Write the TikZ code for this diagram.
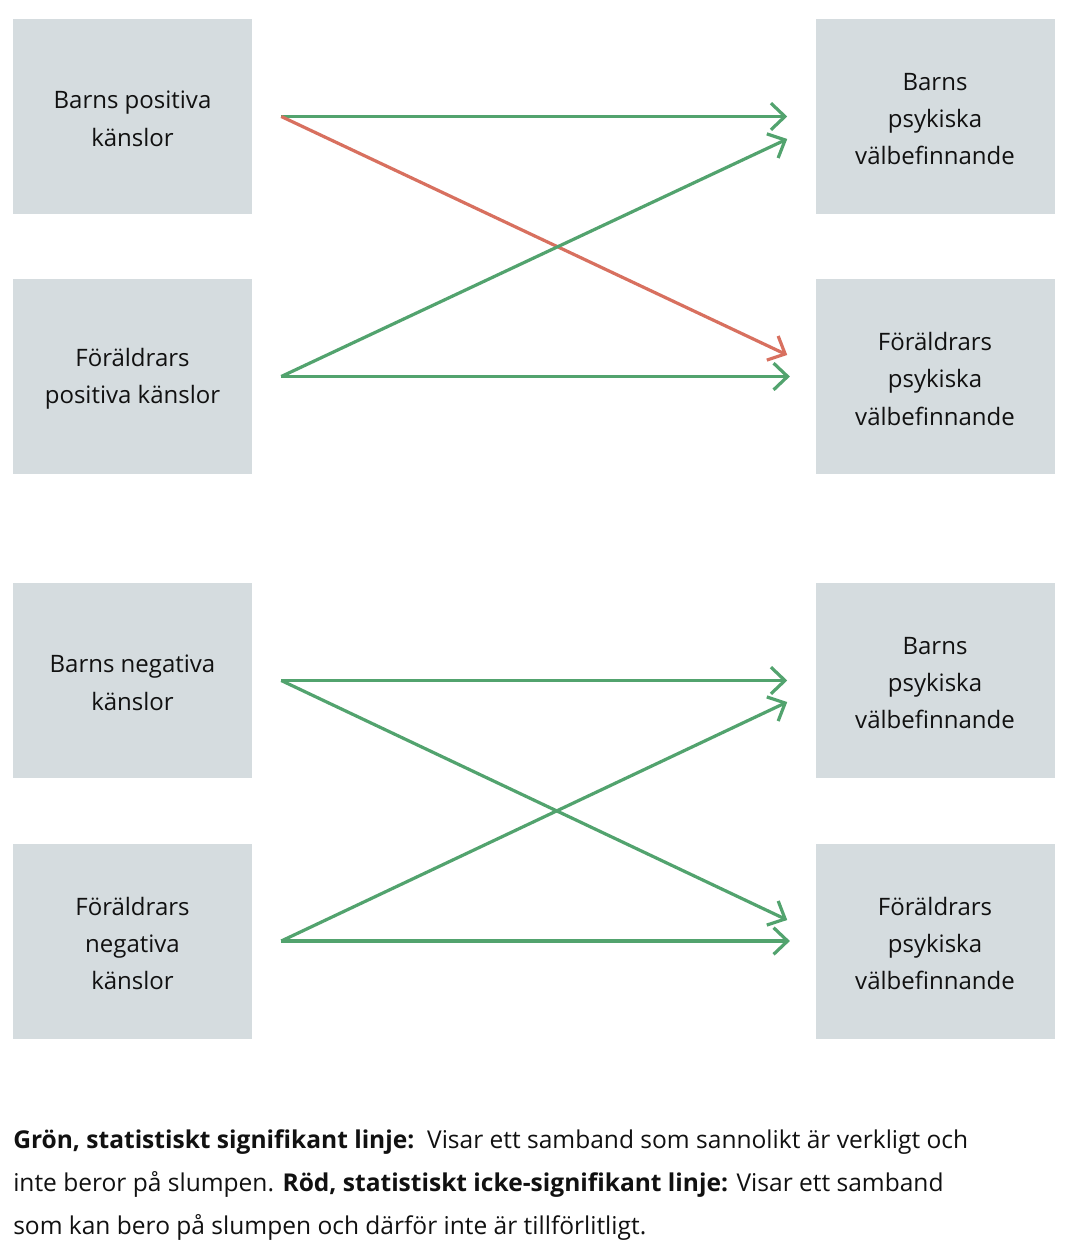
\documentclass[tikz,border=0pt]{standalone}
\usepackage{fontspec}
\setmainfont{Open Sans}
\usetikzlibrary{arrows.meta}
\definecolor{boxc}{HTML}{D5DCDF}
\definecolor{grn}{HTML}{52A36E}
\definecolor{rd}{HTML}{D8705F}
\definecolor{txt}{HTML}{111111}
\begin{document}
\begin{tikzpicture}[x=0.75pt,y=-0.75pt,
  box/.style={fill=boxc, minimum width=179.25pt, minimum height=146.25pt, align=center,
    inner sep=0pt, text=txt, font=\fontsize{18}{28}\selectfont},
  boxtext/.style={align=center, inner sep=0pt, text=txt, font=\fontsize{18}{28}\selectfont},
  link/.style={line width=2.4pt, -{Straight Barb[length=10.5pt,width=20pt]}},
  legend/.style={anchor=base west, inner sep=0pt, text=txt, font=\fontsize{18.4}{27}\selectfont}]
\useasboundingbox (0,0) rectangle (1083,1241);
\fill[white] (0,0) rectangle (1083,1241);
% left boxes
\node[box, label={[boxtext,yshift=-1.8pt]center:Barns positiva\\känslor}] (l1) at (132.5,116.5) {};
\node[box, label={[boxtext,yshift=-1.8pt]center:Föräldrars\\positiva känslor}] (l2) at (132.5,376.5) {};
\node[box, label={[boxtext,yshift=-1.8pt]center:Barns negativa\\känslor}] (l3) at (132.5,680.5) {};
\node[box, label={[boxtext,yshift=-1.8pt]center:Föräldrars\\negativa\\känslor}] (l4) at (132.5,941) {};
% right boxes
\node[box, label={[boxtext,yshift=-1.8pt]center:Barns\\psykiska\\välbefinnande}] (r1) at (935,116.5) {};
\node[box, label={[boxtext,yshift=-1.8pt]center:Föräldrars\\psykiska\\välbefinnande}] (r2) at (935,376.5) {};
\node[box, label={[boxtext,yshift=-1.8pt]center:Barns\\psykiska\\välbefinnande}] (r3) at (935,680.5) {};
\node[box, label={[boxtext,yshift=-1.8pt]center:Föräldrars\\psykiska\\välbefinnande}] (r4) at (935,941) {};
% connectors, top group
\draw[link,grn] ([xshift=21.75pt]l1.east) -- ([xshift=-21pt]r1.west);
\draw[link,rd] ([xshift=21.75pt]l1.east) -- ([shift={(-28,-21.5)}]r2.west);
\draw[link,grn] ([xshift=21.75pt]l2.east) -- ([shift={(-28,22.5)}]r1.west);
\draw[link,grn] ([xshift=21.75pt]l2.east) -- ([xshift=-19pt]r2.west);
% connectors, bottom group
\draw[link,grn] ([xshift=21.75pt]l3.east) -- ([xshift=-21pt]r3.west);
\draw[link,grn] ([xshift=21.75pt]l3.east) -- ([shift={(-28,-21)}]r4.west);
\draw[link,grn] ([xshift=21.75pt]l4.east) -- ([shift={(-28,21.5)}]r3.west);
\draw[link,grn] ([xshift=21.75pt]l4.east) -- ([xshift=-19pt]r4.west);
% legend
\node[legend] (g1) at (13,1148) {\textbf{Grön, statistiskt signifikant linje:}\ \ Visar ett samband som sannolikt är verkligt och};
\node[legend] (g2) at (13,1191) {inte beror på slumpen. \textbf{Röd, statistiskt icke-signifikant linje:} Visar ett samband};
\node[legend] (g3) at (13,1234) {som kan bero på slumpen och därför inte är tillförlitligt.};
\end{tikzpicture}
\end{document}
